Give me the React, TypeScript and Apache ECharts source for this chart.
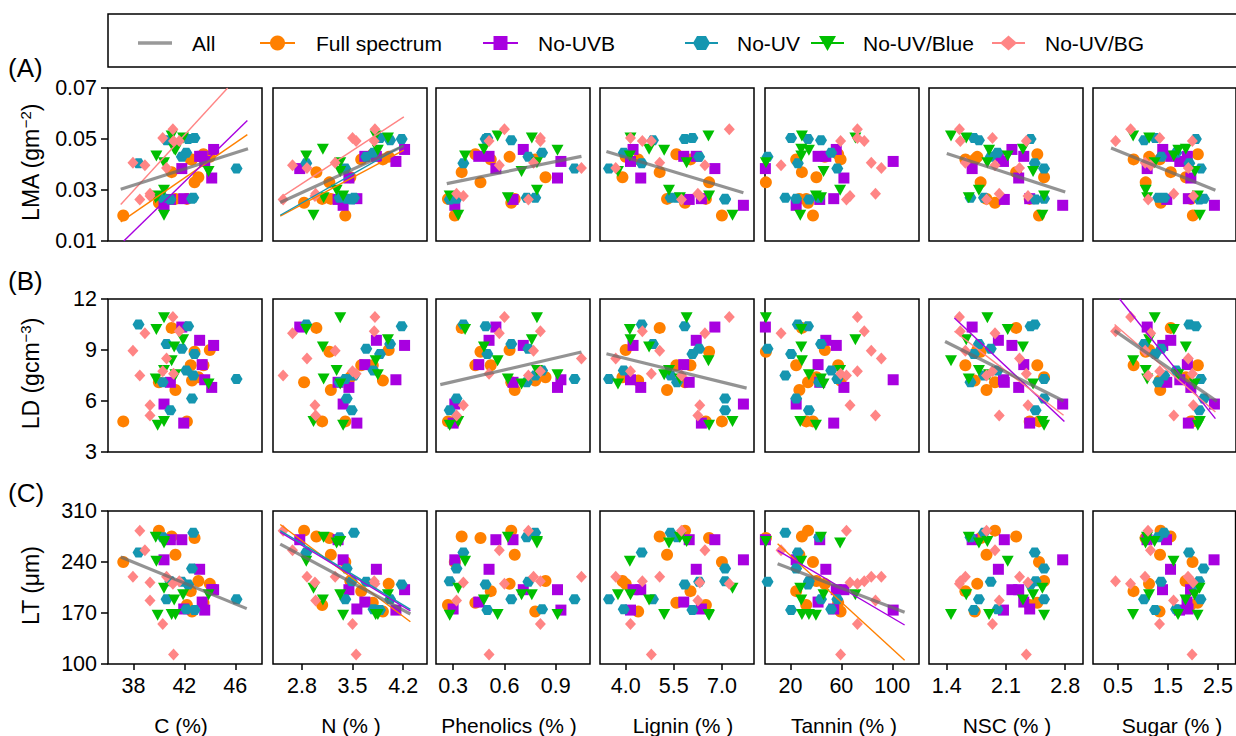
import React, { useEffect, useRef } from 'react';
import * as echarts from 'echarts';

const FONT = "'Liberation Sans', Arial, Helvetica, sans-serif";

// ---------- Data: one entry per plant sample, per treatment ----------
// Full spectrum
const fsC = [37.2, 40.0, 41.0, 41.3, 42.2, 42.5, 42.6, 42.8, 43.1, 43.5, 44.0];
const fsN = [3.4, 2.83, 3.0, 3.2, 3.08, 3.62, 3.92, 3.18, 3.47, 3.78, 4.0];
const fsPh = [0.31, 0.64, 0.35, 0.66, 0.27, 0.52, 0.78, 0.46, 0.84, 0.43, 0.63];
const fsLig = [7.0, 5.85, 5.06, 5.29, 6.5, 6.02, 4.39, 6.6, 3.9, 5.58, 4.0];
const fsTan = [37.7, 33.8, 29, 27, 32.4, 24.5, 59.4, 0.7, 40.4, 57.5, 47];
const fsNSC = [2.49, 1.97, 2.22, 1.87, 2.38, 1.62, 1.73, 1.8, 2.55, 2.47, 1.76];
const fsSug = [1.99, 1.35, 1.55, 1.34, 1.95, 0.81, 1.33, 1.05, 1.85, 2.09, 1.12];
const fsLMA = [0.02, 0.025, 0.037, 0.0265, 0.0265, 0.042, 0.042, 0.033, 0.035, 0.044, 0.043];
const fsLD = [4.8, 7.1, 10.3, 6.65, 4.8, 8.1, 7.2, 8.9, 7.4, 8.1, 9.0];
const fsLT = [240, 283, 275, 250, 181, 200, 172, 273, 214, 184, 210];

// No-UVB
const ubC = [40.4, 40.9, 41.8, 41.95, 43.2, 43.4, 43.6, 44.15, 44.3];
const ubN = [3.37, 3.3, 2.77, 3.56, 3.83, 3.67, 4.1, 3.45, 4.22];
const ubPh = [0.31, 0.65, 0.55, 0.3, 0.51, 0.45, 0.93, 0.91, 0.71];
const ubLig = [7.67, 5.98, 6.78, 6.36, 6.2, 5.81, 4.15, 4.47, 4.23];
const ubTan = [24.5, 43, 0.3, 54, 47.8, 41.7, 100.7, 62, 56];
const ubNSC = [2.77, 2.08, 1.7, 2.38, 2.01, 2.31, 2.07, 2.25, 2.17];
const ubSug = [2.42, 1.47, 1.08, 1.9, 1.55, 1.88, 1.73, 1.95, 1.39];
const ubLMA = [0.024, 0.0263, 0.0384, 0.0266, 0.0432, 0.0432, 0.0412, 0.0347, 0.0459];
const ubLD = [5.82, 7.1, 10.35, 4.7, 9.57, 8.14, 7.25, 6.8, 9.27];
const ubLT = [243, 270.6, 270.6, 175.5, 230, 185, 174, 202, 202];

// No-UV
const uvC = [38.4, 40.3, 40.6, 40.9, 41.8, 42.15, 42.3, 42.6, 42.7, 42.8, 46.1];
const uvN = [2.86, 3.32, 4.02, 3.49, 3.69, 3.79, 4.18, 3.42, 3.52, 3.88, 3.4];
const uvPh = [0.36, 0.73, 0.64, 0.28, 0.74, 0.82, 0.49, 0.32, 0.78, 0.5, 1.01];
const uvLig = [4.5, 5.6, 4.85, 7.1, 6.29, 3.94, 5.84, 7.1, 5.4, 6.08, 3.48];
const uvTan = [25.8, 42.5, 44, 34.5, 2, 52, 33.8, 24.5, 16, 20.5, 56.8];
const uvNSC = [2.44, 1.68, 1.78, 2.45, 1.92, 2.0, 2.39, 2.55, 1.84, 1.72, 2.55];
const uvSug = [1.92, 1.3, 1.02, 2.12, 1.36, 1.66, 2.05, 2.21, 1.42, 1.24, 2.15];
const uvLMA = [0.0405, 0.027, 0.0495, 0.0263, 0.043, 0.0446, 0.05, 0.0266, 0.027, 0.0504, 0.0384];
const uvLD = [10.5, 7.1, 9.35, 5.45, 9.08, 7.8, 10.4, 6.14, 7.5, 8.76, 7.3];
const uvLT = [253, 274, 189, 213.6, 213, 175, 209, 231, 280, 174, 189];

// No-UV/Blue
const ubbC = [39.8, 39.75, 39.9, 40.4, 40.4, 40.4, 41.0, 41.2, 41.3, 41.9, 43.9];
const ubbN = [2.86, 3.1, 3.37, 3.33, 2.96, 3.28, 3.82, 3.09, 3.85, 3.99, 3.33];
const ubbPh = [0.37, 0.62, 0.28, 0.79, 0.33, 0.79, 0.56, 0.48, 0.91, 0.76, 0.7];
const ubbLig = [4.13, 5.69, 6.6, 5.9, 7.33, 5.35, 6.58, 4.73, 5.2, 4.15, 3.76];
const ubbTan = [28.5, 44, 40, 0.7, 27.7, 59, 29, 28.5, 34.5, 71, 46];
const ubbNSC = [2.12, 1.66, 2.55, 1.88, 2.53, 1.78, 1.45, 2.3, 1.9, 1.63, 2.42];
const ubbSug = [1.61, 1.08, 2.09, 1.23, 2.13, 1.05, 0.8, 1.85, 1.7, 1.12, 2.03];
const ubbLMA = [0.0433, 0.027, 0.0276, 0.0407, 0.0201, 0.0299, 0.0512, 0.046, 0.0456, 0.0504, 0.0373];
const ubbLD = [10.2, 7.3, 4.57, 10.9, 4.8, 7.8, 8.37, 9.18, 7.55, 9.6, 7.0];
const ubbLT = [241, 274, 167, 268, 204, 266, 168, 188, 168, 195, 195];

// No-UV/BG
const bgC = [37.96, 38.5, 38.9, 39.3, 39.3, 40.3, 40.6, 41.1, 41.15, 41.6];
const bgN = [3.26, 2.54, 2.67, 2.98, 2.99, 3.5, 2.87, 3.81, 3.55, 3.8];
const bgPh = [0.77, 0.74, 0.57, 0.36, 0.32, 0.81, 1.05, 0.6, 0.51, 0.81];
const bgLig = [5.06, 5.74, 6.47, 6.31, 6.25, 4.15, 3.69, 7.23, 4.8, 4.52];
const bgTan = [83.5, 64, 12.6, 66.8, 86.8, 72.6, 91.4, 72.6, 59.4, 78];
const bgNSC = [1.62, 1.87, 1.97, 2.36, 2.02, 1.94, 2.26, 1.55, 2.34, 1.56];
const bgSug = [1.04, 1.1, 1.15, 2.0, 1.61, 1.33, 1.9, 0.75, 1.98, 0.45];
const bgLMA = [0.0407, 0.0263, 0.0397, 0.0276, 0.0285, 0.0504, 0.0386, 0.0538, 0.0492, 0.0492];
const bgLD = [8.96, 7.5, 9.98, 5.75, 5.14, 7.75, 8.5, 10.94, 7.6, 10.1];
const bgLT = [219.6, 283, 256, 212, 187, 155, 219.6, 210, 113, 213.6];

// Regression lines: [row, col, x0, y0, x1, y1] in data units
const allFits = [
  [0, 0, 37, 0.0303, 47, 0.0462],
  [0, 1, 2.5, 0.0251, 4.21, 0.0473],
  [0, 2, 0.263, 0.0325, 1.05, 0.0432],
  [0, 3, 3.4, 0.0451, 7.67, 0.0289],
  [0, 5, 1.4, 0.0443, 2.8, 0.0292],
  [0, 6, 0.36, 0.0465, 2.44, 0.0299],
  [1, 2, 0.225, 6.96, 1.05, 8.88],
  [1, 3, 3.4, 8.78, 7.77, 6.76],
  [1, 5, 1.38, 9.5, 2.78, 6.0],
  [1, 6, 0.43, 10.14, 2.47, 5.98],
  [2, 0, 37, 247, 46.9, 176],
  [2, 1, 2.5, 264.6, 4.3, 168.6],
  [2, 4, 9.9, 237.5, 109.7, 170.9],
];
const fsFits = [
  [0, 0, 37, 0.0175, 46.95, 0.0517],
  [0, 1, 2.5, 0.0198, 4.21, 0.0456],
  [2, 1, 2.5, 291.5, 4.3, 158],
  [2, 4, 9.9, 265, 109.7, 105],
];
const ubFits = [
  [0, 0, 37.24, 0.01, 46.95, 0.0573],
  [1, 5, 1.49, 10.88, 2.79, 4.8],
  [1, 6, 0.53, 12.0, 2.44, 4.96],
  [2, 1, 2.5, 281, 4.3, 173],
  [2, 4, 9.9, 256, 109.7, 153.5],
];
const uvFits = [
  [0, 1, 2.5, 0.0201, 4.2, 0.0475],
  [2, 1, 2.5, 283, 4.3, 175],
];
const ubbFits: number[][] = [];
const bgFits = [
  [0, 0, 37, 0.0243, 45.4, 0.07],
  [0, 1, 2.5, 0.0269, 4.21, 0.0587],
  [1, 5, 1.49, 10.1, 2.78, 5.16],
  [1, 6, 0.43, 10.5, 2.44, 5.35],
];

// Axes
const xNames = ['C (%)', 'N (% )', 'Phenolics (% )', 'Lignin (% )', 'Tannin (% )', 'NSC (% )', 'Sugar (% )'];
const xMins = [36, 2.4, 0.2, 3.2, 0, 1.19, 0];
const xMaxs = [48.1, 4.53, 1.1, 8.0, 121, 3.01, 2.85];
const xTicks = [[38, 42, 46], [2.8, 3.5, 4.2], [0.3, 0.6, 0.9], [4.0, 5.5, 7.0], [20, 60, 100], [1.4, 2.1, 2.8], [0.5, 1.5, 2.5]];
const xDecimals = [0, 1, 1, 1, 0, 1, 1];
const yMins = [0.01, 3, 100];
const yMaxs = [0.07, 12, 310];
const yTicks = [[0.01, 0.03, 0.05, 0.07], [3, 6, 9, 12], [100, 170, 240, 310]];
const yDecimals = [2, 0, 0];
const rowLetters = ['(A)', '(B)', '(C)'];

const groups = [
  { name: 'Full spectrum', color: '#FF8000', symbol: 'circle', size: 12, cols: [fsC, fsN, fsPh, fsLig, fsTan, fsNSC, fsSug], rows: [fsLMA, fsLD, fsLT], fits: fsFits },
  { name: 'No-UVB', color: '#A800E0', symbol: 'rect', size: 11, cols: [ubC, ubN, ubPh, ubLig, ubTan, ubNSC, ubSug], rows: [ubLMA, ubLD, ubLT], fits: ubFits },
  { name: 'No-UV', color: '#1596B0', symbol: 'path://M0,5L3,0L9,0L12,5L9,10L3,10Z', size: [12, 10], cols: [uvC, uvN, uvPh, uvLig, uvTan, uvNSC, uvSug], rows: [uvLMA, uvLD, uvLT], fits: uvFits },
  { name: 'No-UV/Blue', color: '#00BF00', symbol: 'path://M0,0L10,0L5,9Z', size: [12, 11], cols: [ubbC, ubbN, ubbPh, ubbLig, ubbTan, ubbNSC, ubbSug], rows: [ubbLMA, ubbLD, ubbLT], fits: ubbFits },
  { name: 'No-UV/BG', color: '#FF8585', symbol: 'diamond', size: [11, 12], cols: [bgC, bgN, bgPh, bgLig, bgTan, bgNSC, bgSug], rows: [bgLMA, bgLD, bgLT], fits: bgFits },
];

const colLefts = [108, 273, 436, 600, 765, 929, 1093];
const rowTops = [88, 299, 511];
const PW = 154;
const PH = 153;
const xNameCenters = [181, 351, 509, 683, 844, 1007, 1172];
const rowLetterY = [68, 281, 493];

function buildOption() {
  const grid: any[] = [];
  const xAxis: any[] = [];
  const yAxis: any[] = [];
  const series: any[] = [];
  for (let r = 0; r < 3; r++) {
    for (let c = 0; c < 7; c++) {
      const gi = r * 7 + c;
      grid.push({ left: colLefts[c], top: rowTops[r], width: PW, height: PH, show: true, borderColor: '#000', borderWidth: 1.5, backgroundColor: 'transparent' });
      xAxis.push({
        type: 'value', gridIndex: gi, min: xMins[c], max: xMaxs[c],
        axisLine: { show: false }, splitLine: { show: false },
        axisTick: { show: r === 2, length: 6, lineStyle: { color: '#000', width: 1.5 }, customValues: xTicks[c] },
        axisLabel: { show: r === 2, customValues: xTicks[c], margin: 11, fontSize: 21.5, color: '#000', fontFamily: FONT,
          formatter: (v: number) => v.toFixed(xDecimals[c]) },
      });
      yAxis.push({
        type: 'value', gridIndex: gi, min: yMins[r], max: yMaxs[r],
        axisLine: { show: false }, splitLine: { show: false },
        axisTick: { show: c === 0, length: 7, lineStyle: { color: '#000', width: 1.5 }, customValues: yTicks[r] },
        axisLabel: { show: c === 0, customValues: yTicks[r], margin: 11, fontSize: 21.5, color: '#000', fontFamily: FONT,
          formatter: (v: number) => v.toFixed(yDecimals[r]) },
      });
      groups.forEach((g) => {
        const xs = g.cols[c];
        const ys = g.rows[r];
        series.push({
          type: 'scatter', name: g.name, xAxisIndex: gi, yAxisIndex: gi,
          data: xs.map((x, i) => [x, ys[i]]),
          symbol: g.symbol, symbolSize: g.size,
          itemStyle: { color: g.color, opacity: 1 },
          silent: true, z: 2, clip: false,
        });
      });
    }
  }
  const addFits = (fits: number[][], color: string, width: number, z: number) => {
    fits.forEach((f) => {
      const gi = f[0] * 7 + f[1];
      series.push({
        type: 'line', xAxisIndex: gi, yAxisIndex: gi,
        data: [[f[2], f[3]], [f[4], f[5]]],
        symbol: 'none', silent: true, z, clip: true,
        lineStyle: { color, width },
      });
    });
  };
  groups.forEach((g) => addFits(g.fits, g.color, 1.4, 3));
  addFits(allFits, 'rgba(105,105,105,0.72)', 3.2, 4);

  // graphic elements: legend, axis names, row labels
  const graphic: any[] = [];
  graphic.push({ type: 'rect', shape: { x: 108, y: 14, width: 1160, height: 53 }, style: { fill: 'none', stroke: '#000', lineWidth: 1.5 } });
  const ly = 43;
  const legendItems = [
    { line: [138, 172], text: 'All', tx: 192 },
    { line: [260, 295], text: 'Full spectrum', tx: 316 },
    { line: [483, 518], text: 'No-UVB', tx: 538 },
    { line: [685, 718], text: 'No-UV', tx: 737 },
    { line: [811, 844], text: 'No-UV/Blue', tx: 863 },
    { line: [992, 1025], text: 'No-UV/BG', tx: 1045 },
  ];
  legendItems.forEach((it, i) => {
    const color = i === 0 ? '#999999' : groups[i - 1].color;
    graphic.push({ type: 'line', shape: { x1: it.line[0], y1: ly, x2: it.line[1], y2: ly }, style: { stroke: color, lineWidth: i === 0 ? 3.5 : 2 } });
    const cx = (it.line[0] + it.line[1]) / 2;
    if (i === 1) graphic.push({ type: 'circle', shape: { cx, cy: ly, r: 7.5 }, style: { fill: color } });
    if (i === 2) graphic.push({ type: 'rect', shape: { x: cx - 7, y: ly - 7, width: 14, height: 14 }, style: { fill: color } });
    if (i === 3) graphic.push({ type: 'polygon', shape: { points: [[cx - 8.5, ly], [cx - 4.5, ly - 7], [cx + 4.5, ly - 7], [cx + 8.5, ly], [cx + 4.5, ly + 7], [cx - 4.5, ly + 7]] }, style: { fill: color } });
    if (i === 4) graphic.push({ type: 'polygon', shape: { points: [[cx - 8.5, ly - 7], [cx + 8.5, ly - 7], [cx, ly + 8]] }, style: { fill: color } });
    if (i === 5) graphic.push({ type: 'polygon', shape: { points: [[cx - 8.5, ly], [cx, ly - 7.5], [cx + 8.5, ly], [cx, ly + 7.5]] }, style: { fill: color } });
    graphic.push({ type: 'text', x: it.tx, y: ly, style: { text: it.text, fontSize: 21, fontFamily: FONT, fill: '#000', align: 'left', verticalAlign: 'middle' } });
  });

  xNames.forEach((n, c) => {
    graphic.push({ type: 'text', x: xNameCenters[c], y: 725, style: { text: n, fontSize: 21, fontFamily: FONT, fill: '#000', align: 'center', verticalAlign: 'middle' } });
  });
  rowLetters.forEach((t, r) => {
    graphic.push({ type: 'text', x: 8, y: rowLetterY[r], style: { text: t, fontSize: 26, fontFamily: FONT, fill: '#000', align: 'left', verticalAlign: 'middle' } });
  });
  const yNameTexts = ['{a|LMA (gm}{s|−2}{a|)}', '{a|LD (gcm}{s|−3}{a|)}', '{a|LT (μm)}'];
  yNameTexts.forEach((t, r) => {
    graphic.push({
      type: 'text', x: 31, y: rowTops[r] + PH / 2 - 2, rotation: Math.PI / 2,
      style: {
        text: t, align: 'center', verticalAlign: 'middle', fontFamily: FONT, fill: '#000',
        rich: {
          a: { fontSize: 23, fontFamily: FONT, fill: '#000', lineHeight: 26 },
          s: { fontSize: 15, fontFamily: FONT, fill: '#000', verticalAlign: 'top', lineHeight: 26 },
        },
      },
    });
  });

  return { animation: false, backgroundColor: '#fff', grid, xAxis, yAxis, series, graphic };
}

export default function App() {
  const ref = useRef<HTMLDivElement>(null);
  useEffect(() => {
    document.body.style.margin = '0';
    if (!ref.current) return;
    const chart = echarts.init(ref.current, undefined, { renderer: 'svg' });
    chart.setOption(buildOption() as any);
    return () => chart.dispose();
  }, []);
  return <div ref={ref} style={{ width: 1236, height: 736 }} />;
}
